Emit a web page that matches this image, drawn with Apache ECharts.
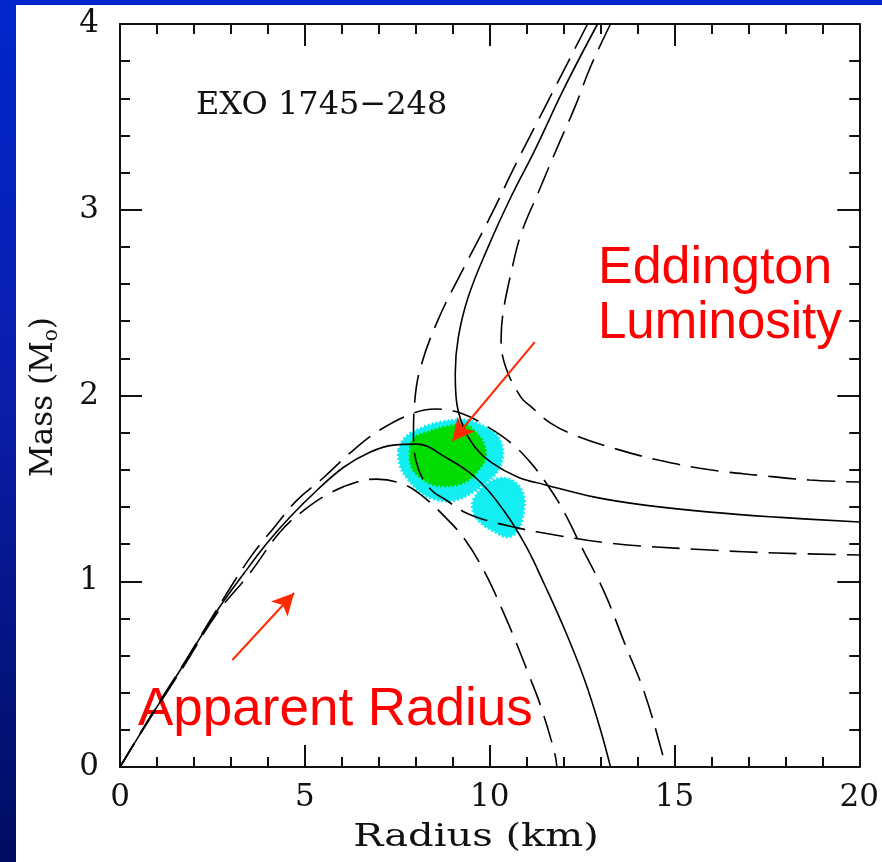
<!DOCTYPE html>
<html>
<head>
<meta charset="utf-8">
<script src="https://cdn.jsdelivr.net/npm/echarts@6/dist/echarts.min.js"></script>
<style>
  html, body { margin: 0; padding: 0; }
  body {
    width: 882px; height: 862px; overflow: hidden; position: relative;
    background: linear-gradient(to bottom, #0026cc 0%, #0a1eac 45%, #000c60 100%);
  }
  #panel { position: absolute; left: 16px; top: 5px; width: 866px; height: 857px; background: #ffffff; }
  #chart { position: absolute; left: 0; top: 0; width: 882px; height: 862px; }
</style>
</head>
<body>
<div id="panel"></div>
<div id="chart"></div>
<script>
// Radius (km) / Mass (solar masses) constraints for EXO 1745-248

// Apparent-radius constraint: central curve and its two bounds
const appMid = [[0,0],[0.83,0.27],[1.75,0.56],[2.64,0.845],[3.36,1.044],[3.98,1.206],[4.60,1.346],
  [5.33,1.49],[6.06,1.615],[6.76,1.695],[7.40,1.733],[8.02,1.738],[8.80,1.668],[9.69,1.545],
  [10.42,1.37],[10.98,1.19],[11.49,0.98],[12.03,0.74],[12.57,0.468],[13.0,0.199],[13.27,0]];
const appHi = [[0,0],[0.83,0.275],[1.75,0.565],[2.64,0.855],[3.53,1.13],[4.17,1.29],[4.79,1.437],
  [5.52,1.56],[6.22,1.69],[7.03,1.814],[7.94,1.905],[8.53,1.927],[9.23,1.905],[9.96,1.83],
  [10.58,1.744],[11.12,1.636],[11.66,1.49],[12.03,1.367],[12.46,1.195],[13.11,0.937],
  [13.65,0.667],[14.19,0.398],[14.72,0.038],[14.75,0]];
const appLo = [[0,0],[0.83,0.268],[1.75,0.55],[2.64,0.832],[3.5,1.04],[4.33,1.265],[4.98,1.383],
  [5.68,1.475],[6.41,1.534],[6.94,1.55],[7.56,1.53],[8.08,1.475],[8.80,1.345],[9.34,1.222],
  [9.88,1.044],[10.31,0.861],[10.69,0.684],[11.04,0.506],[11.39,0.323],[11.76,0.075],[11.82,0]];

// Eddington-luminosity constraint: central curve and its two bounds
const eddMid = [[12.92,4.0],[12.03,3.66],[11.22,3.32],[10.58,3.07],[9.96,2.80],[9.42,2.53],
  [9.15,2.31],[9.07,2.12],[9.10,1.975],[9.29,1.83],[9.61,1.72],[10.04,1.64],[10.77,1.56],
  [11.49,1.52],[12.84,1.453],[14.19,1.41],[15.96,1.372],[17.77,1.345],[20,1.319]];
const eddHi = [[13.27,4.0],[12.73,3.77],[12.30,3.55],[11.84,3.34],[11.31,3.09],[10.85,2.87],
  [10.58,2.66],[10.36,2.44],[10.31,2.30],[10.44,2.15],[10.85,1.99],[11.12,1.94],[11.66,1.85],
  [12.38,1.78],[13.46,1.71],[14.62,1.65],[15.96,1.60],[17.31,1.57],[18.65,1.545],[20,1.534]];
const eddLo = [[12.65,4.0],[11.49,3.55],[10.77,3.27],[9.96,2.94],[9.23,2.66],[8.61,2.41],
  [8.13,2.15],[7.97,1.96],[7.94,1.78],[8.08,1.60],[8.43,1.49],[8.80,1.44],[9.34,1.37],
  [9.88,1.33],[10.69,1.29],[11.31,1.265],[13.27,1.205],[15.96,1.168],[17.77,1.152],[20,1.141]];

// Allowed regions (outlines)
const greenBlob = [[7.86,1.722],[7.99,1.776],[8.34,1.803],[8.80,1.830],[9.34,1.841],[9.61,1.803],
  [9.83,1.744],[9.88,1.663],[9.69,1.598],[9.42,1.545],[9.07,1.518],[8.53,1.518],[8.16,1.555],[7.89,1.615]];
const cyanBlobA = [[7.54,1.706],[7.73,1.776],[8.16,1.825],[8.69,1.857],[9.34,1.868],[9.88,1.830],
  [10.23,1.776],[10.36,1.690],[10.23,1.598],[9.88,1.529],[9.50,1.475],[9.07,1.437],[8.61,1.437],
  [8.16,1.475],[7.81,1.545],[7.59,1.615]];
const cyanBlobB = [[9.56,1.437],[9.88,1.518],[10.31,1.555],[10.71,1.529],[10.93,1.453],[10.90,1.356],
  [10.77,1.276],[10.50,1.238],[10.15,1.265],[9.77,1.313],[9.56,1.372]];

// Annotation arrows (tail, head)
const eddArrow = [[11.22,2.287],[8.99,1.755]];
const appArrow = [[3.04,0.576],[4.71,0.937]];

const xTicks = [0, 5, 10, 15, 20];
const yTicks = [0, 1, 2, 3, 4];

const SERIF = '"DejaVu Serif", "Liberation Serif", serif';
const SANS = '"Liberation Sans", Arial, sans-serif';
const DASH = [28, 11];

function blobSeries(points, color) {
  return {
    type: 'custom',
    silent: true,
    data: [0],
    renderItem: function (params, api) {
      return {
        type: 'polygon',
        shape: { points: points.map(p => api.coord(p)), smooth: 0.35 },
        style: { fill: color, stroke: color, lineWidth: 3, lineDash: [2, 2] }
      };
    }
  };
}

function curve(data, dashed) {
  return {
    type: 'line',
    data: data,
    smooth: 0.4,
    symbol: 'none',
    silent: true,
    lineStyle: { color: '#000', width: 1.6, type: dashed ? DASH : 'solid' }
  };
}

function axisCommon(min, max, interval, showLabels, pos) {
  return {
    type: 'value', min: min, max: max, interval: interval, position: pos,
    axisLine: { show: true, onZero: false, lineStyle: { color: '#111', width: 2 } },
    axisTick: { show: true, inside: true, length: 22, lineStyle: { color: '#111', width: 2 } },
    minorTick: { show: true, splitNumber: 5, length: 10, lineStyle: { color: '#111', width: 2 } },
    splitLine: { show: false },
    axisLabel: { show: showLabels }
  };
}

const xBottom = axisCommon(0, 20, 5, true, 'bottom');
xBottom.axisLabel = { show: true, margin: 15, fontFamily: SERIF, fontSize: 31, color: '#111',
  formatter: v => (xTicks.indexOf(v) >= 0 ? String(v) : '') };
const xTop = axisCommon(0, 20, 5, false, 'top');
const yLeft = axisCommon(0, 4, 1, true, 'left');
yLeft.axisLabel = { show: true, margin: 21, fontFamily: SERIF, fontSize: 31, color: '#111',
  formatter: v => (yTicks.indexOf(v) >= 0 ? String(v) : '') };
const yRight = axisCommon(0, 4, 1, false, 'right');

const chart = echarts.init(document.getElementById('chart'), null, { renderer: 'canvas' });

chart.setOption({
  animation: false,
  backgroundColor: 'transparent',
  grid: { left: 120, top: 24, right: 19, bottom: 95, containLabel: false },
  xAxis: [xBottom, xTop],
  yAxis: [yLeft, yRight],
  series: [
    blobSeries(cyanBlobA, '#12eef2'),
    blobSeries(cyanBlobB, '#12eef2'),
    blobSeries(greenBlob, '#00dc00'),
    curve(appMid, false), curve(appHi, true), curve(appLo, true),
    curve(eddMid, false), curve(eddHi, true), curve(eddLo, true),
    {
      type: 'line', data: [], silent: true,
      markLine: {
        silent: true, symbol: ['none', 'arrow'], symbolSize: [17, 22],
        label: { show: false },
        lineStyle: { color: '#ff2a00', width: 2, type: 'solid' },
        emphasis: { disabled: true },
        data: [
          [{ coord: eddArrow[0] }, { coord: eddArrow[1] }],
          [{ coord: appArrow[0] }, { coord: appArrow[1] }]
        ]
      }
    }
  ],
  graphic: [
    { type: 'text', x: 196, y: 90, silent: true,
      style: { text: 'EXO 1745\u2212248', font: '32px ' + SERIF, fill: '#111', verticalAlign: 'top' } },
    { type: 'text', x: 598, y: 243, silent: true,
      style: { text: 'Eddington', font: '52px ' + SANS, fill: '#ff0000', verticalAlign: 'top' } },
    { type: 'text', x: 598, y: 298, silent: true,
      style: { text: 'Luminosity', font: '51px ' + SANS, fill: '#ff0000', verticalAlign: 'top' } },
    { type: 'text', x: 138, y: 684, silent: true,
      style: { text: 'Apparent Radius', font: '53px ' + SANS, fill: '#ff0000', verticalAlign: 'top' } },
    { type: 'text', x: 476, y: 838, silent: true,
      style: { text: 'Radius (km)', font: '32px ' + SERIF, fill: '#111', align: 'center', verticalAlign: 'middle' },
      scaleX: 1.25 },
    { type: 'text', x: 44, y: 397, rotation: Math.PI / 2, silent: true,
      style: {
        text: '{a|Mass (M}{s|o}{a|)}', align: 'center', verticalAlign: 'middle', fill: '#111',
        rich: {
          a: { font: '31px ' + SERIF, fill: '#111' },
          s: { font: '20px ' + SERIF, fill: '#111', padding: [16, 0, 0, 0] }
        }
      } }
  ]
});
</script>
</body>
</html>
